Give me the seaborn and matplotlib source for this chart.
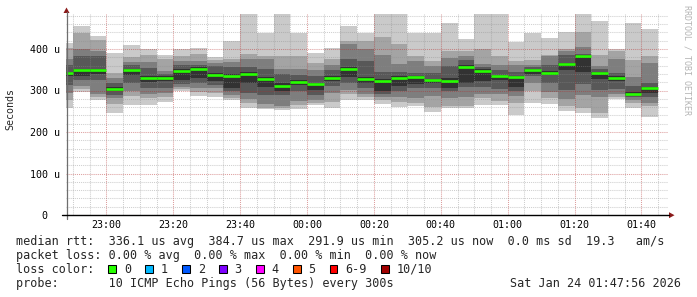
import numpy as np
import pandas as pd
import matplotlib
matplotlib.use("Agg")
import matplotlib.pyplot as plt
import matplotlib.dates as mdates
from matplotlib.patches import Rectangle, Polygon
from matplotlib.lines import Line2D
import seaborn as sns

# ------------------------------------------------------------------ data
period_start = "2026-01-23 22:47:56"
period_end = "2026-01-24 01:47:56"
first_full_bin = "2026-01-23 22:50"
last_bin_end = "2026-01-24 01:45"
step = "5min"

# sorted ping round-trip times per 5-min bin (microseconds), lowest .. highest
ping_01 = [258, 297, 278, 246, 266, 266, 272, 298, 286, 284, 276, 259, 255, 252, 256, 265, 259, 276,
           277, 268, 261, 263, 247, 259, 257, 265, 265, 241, 271, 268, 251, 245, 233, 279, 259, 237]
ping_02 = [276, 303, 284, 268, 286, 282, 284, 304, 296, 294, 282, 269, 259, 257, 264, 270, 272, 292,
           284, 277, 272, 270, 261, 263, 263, 282, 275, 270, 300, 282, 262, 258, 246, 285, 270, 263]
ping_03 = [293, 312, 292, 282, 299, 292, 294, 309, 306, 306, 288, 279, 267, 262, 275, 277, 295, 302,
           292, 285, 285, 282, 287, 281, 285, 292, 291, 287, 318, 297, 280, 290, 285, 292, 276, 270]
ping_04 = [313, 326, 326, 290, 318, 306, 306, 316, 318, 314, 298, 295, 289, 290, 300, 290, 310, 318,
           305, 292, 300, 305, 305, 298, 308, 309, 303, 299, 334, 318, 302, 316, 301, 303, 285, 285]
ping_05 = [334, 334, 340, 298, 338, 321, 322, 325, 330, 322, 306, 317, 308, 300, 314, 302, 322, 333,
           318, 300, 312, 315, 318, 305, 319, 323, 325, 308, 340, 337, 349, 345, 327, 322, 288, 293]
ping_06 = [345, 352, 352, 308, 353, 336, 334, 352, 356, 342, 340, 345, 332, 318, 325, 319, 334, 356,
           332, 328, 334, 336, 328, 330, 361, 352, 338, 336, 352, 346, 366, 386, 345, 335, 296, 309]
ping_07 = [362, 382, 382, 318, 362, 354, 340, 362, 362, 358, 356, 356, 351, 340, 338, 335, 350, 377,
           372, 345, 345, 341, 342, 359, 373, 357, 350, 345, 356, 362, 385, 388, 351, 342, 310, 319]
ping_08 = [376, 400, 395, 330, 368, 368, 348, 371, 372, 366, 369, 375, 375, 352, 352, 350, 362, 412,
           400, 386, 364, 371, 360, 378, 382, 364, 361, 361, 361, 383, 394, 406, 359, 375, 332, 367]
ping_09 = [402, 438, 421, 342, 380, 385, 376, 384, 388, 374, 376, 388, 383, 384, 384, 367, 377, 420,
           420, 430, 412, 383, 370, 394, 394, 399, 382, 371, 373, 386, 400, 442, 386, 394, 373, 382]
ping_10 = [415, 456, 432, 391, 409, 400, 386, 400, 402, 380, 420, 500, 439, 500, 439, 391, 402, 455,
           438, 500, 500, 439, 439, 462, 423, 500, 500, 418, 439, 427, 442, 500, 468, 399, 462, 447]
median_rtt = [341, 350, 350, 304, 350, 330, 330, 346, 352, 338, 334, 340, 328, 312, 320, 315, 329, 352,
              328, 324, 330, 333, 325, 324, 357, 348, 335, 333, 350, 343, 363, 383, 341, 331, 291, 305]

y_max = 485
ytick_values = [0, 100, 200, 300, 400]
ytick_labels = ["0\u00a0\u00a0", "100 u", "200 u", "300 u", "400 u"]
xtick_first = "2026-01-23 23:00"
xtick_labels = ["23:00", "23:20", "23:40", "00:00", "00:20", "00:40", "01:00", "01:20", "01:40"]

loss_labels = ["0", "1", "2", "3", "4", "5", "6-9", "10/10"]
loss_colors = ["#26ff00", "#00b8ff", "#0059ff", "#7e00ff", "#ff00ff", "#ff5500", "#ff0000", "#a10000"]

rtt_avg, rtt_max, rtt_min, rtt_now, rtt_sd, rtt_ams = "336.1", "384.7", "291.9", "305.2", "0.0", "19.3"
loss_avg, loss_max, loss_min, loss_now = "0.00", "0.00", "0.00", "0.00"
probe_text = "10 ICMP Echo Pings (56 Bytes) every 300s"
stamp_text = "Sat Jan 24 01:47:56 2026"
y_title = "Seconds"
watermark = "RRDTOOL / TOBI OETIKER"

# ------------------------------------------------------------------ style
sns.set_theme(style="white")
plt.rcParams["font.family"] = ["DejaVu Sans Mono", "DejaVu Sans"]
plt.rcParams["axes.unicode_minus"] = False

W, H = 697, 297
fig = plt.figure(figsize=(W / 100, H / 100), dpi=100, facecolor="white")


def fx(px):
    return px / W


def fy(py):
    return 1 - py / H


ax_l, ax_r, ax_b, ax_t = 66, 668, 215, 215 - y_max * 0.415
ax = fig.add_axes([fx(ax_l), fy(ax_b), fx(ax_r - ax_l), (ax_b - ax_t) / H])
ax.set_facecolor("white")

# ------------------------------------------------------------------ smoke
edges = [pd.Timestamp(period_start)] + list(pd.date_range(first_full_bin, last_bin_end, freq=step))
en = mdates.date2num(edges)
left = en[:-1]
width = np.diff(en)
pings = np.array([ping_01, ping_02, ping_03, ping_04, ping_05,
                  ping_06, ping_07, ping_08, ping_09, ping_10], dtype=float)
half = pings.shape[0] // 2
for i in range(half):
    g = int(190 / half * (half - (i + 1))) + 50
    col = "#%02x%02x%02x" % (g, g, g)
    lo, hi = pings[i], pings[-1 - i]
    ax.bar(left, hi - lo, bottom=lo, width=width, align="edge", color=col,
           linewidth=0, zorder=1)

ax.hlines(median_rtt, left, left + width, colors=loss_colors[0], linewidth=1.9,
          zorder=4, capstyle="butt")

# ------------------------------------------------------------------ axes
ax.set_xlim(mdates.date2num(pd.Timestamp(period_start)), mdates.date2num(pd.Timestamp(period_end)))
ax.set_ylim(0, y_max)
xt = mdates.date2num(pd.date_range(xtick_first, periods=len(xtick_labels), freq="20min"))
ax.set_xticks(xt)
ax.set_xticklabels(xtick_labels)
ax.set_xticks(mdates.date2num(pd.date_range(first_full_bin, period_end, freq=step)), minor=True)
ax.set_yticks(ytick_values)
ax.set_yticklabels(ytick_labels)
ax.set_yticks(np.arange(20, y_max, 20), minor=True)

ax.set_axisbelow(False)
ax.grid(which="minor", color="#8c8c8c", alpha=0.42, linestyle=(0, (1, 1)), linewidth=0.75)
ax.grid(which="major", color="#b42828", alpha=0.45, linestyle=(0, (1, 1)), linewidth=0.75)
for gl in ax.xaxis.get_gridlines() + ax.yaxis.get_gridlines():
    gl.set_zorder(2)

ax.tick_params(which="both", length=0)
ax.tick_params(axis="x", which="major", pad=3.6, labelsize=7.2, colors="black")
ax.tick_params(axis="y", which="major", pad=4.3, labelsize=7.2, colors="black")
for s in ax.spines.values():
    s.set_visible(False)

# axis lines and arrows (figure pixel coordinates)
fig.add_artist(Line2D([fx(66.5), fx(66.5)], [fy(219), fy(12)], color="#6e6e6e", lw=0.9))
fig.add_artist(Line2D([fx(62), fx(669)], [fy(215.2), fy(215.2)], color="black", lw=1.0))
fig.add_artist(Polygon([[fx(669), fy(212.2)], [fx(674.5), fy(215.2)], [fx(669), fy(218.2)]],
                       closed=True, color="#8b1a1a", lw=0))
fig.add_artist(Polygon([[fx(63.5), fy(13)], [fx(66.5), fy(7.5)], [fx(69.5), fy(13)]],
                       closed=True, color="#8b1a1a", lw=0))

fig.text(fx(10.5), fy(109), y_title, rotation=90, ha="center", va="center", fontsize=7.2)
fig.text(fx(687.5), fy(5), watermark, rotation=270, ha="center", va="top", fontsize=6.0,
         color="#b4b4b4")

# ------------------------------------------------------------------ legend text
fs = 8.5
x0 = 16
line1 = (f"median rtt:  {rtt_avg} us avg  {rtt_max} us max  {rtt_min} us min  "
         f"{rtt_now} us now  {rtt_sd} ms sd  {rtt_ams}   am/s")
line2 = f"packet loss: {loss_avg} % avg  {loss_avg} % max  {loss_min} % min  {loss_now} % now"
line4 = "probe:       " + probe_text
fig.text(fx(x0), fy(245.3), line1, fontsize=fs, va="baseline", ha="left")
fig.text(fx(x0), fy(259.1), line2, fontsize=fs, va="baseline", ha="left")
fig.text(fx(x0), fy(272.9), "loss color:", fontsize=fs, va="baseline", ha="left")
fig.text(fx(x0), fy(286.7), line4, fontsize=fs, va="baseline", ha="left")
fig.text(fx(680.5), fy(286.7), stamp_text, fontsize=fs, va="baseline", ha="right")

bx = 108.3
for lab, col in zip(loss_labels, loss_colors):
    fig.add_artist(Rectangle((fx(bx), fy(272.8)), fx(7.6), 8.0 / H, facecolor=col,
                             edgecolor="black", lw=0.75))
    fig.text(fx(bx + 15.6), fy(272.9), lab, fontsize=fs, va="baseline", ha="left")
    bx += 15.6 + 7.107 * (len(lab) + 2)

fig.savefig("out.png", dpi=100, facecolor="white")
